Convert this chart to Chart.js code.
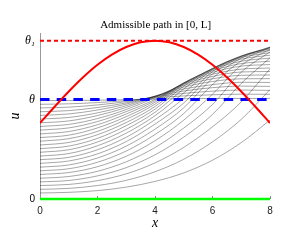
<!DOCTYPE html>
<html>
<head>
<meta charset="utf-8">
<script src="https://cdn.jsdelivr.net/npm/chart.js@4.4.0/dist/chart.umd.min.js"></script>
<style>
  html, body { margin: 0; padding: 0; background: #fff; }
</style>
</head>
<body>
<canvas id="path" width="300" height="250"></canvas>
<script>
// x positions of the sampled gray profiles
var xs = [0, 1, 2, 3, 4, 5, 6, 7, 8]

// gray family u(x) (lowest start first)
var grayPaths = [
    [0.038, 0.042, 0.053, 0.075, 0.111, 0.165, 0.245, 0.356, 0.498],
    [0.061, 0.067, 0.085, 0.118, 0.172, 0.251, 0.361, 0.503, 0.691],
    [0.085, 0.092, 0.116, 0.159, 0.228, 0.326, 0.456, 0.613, 0.822],
    [0.108, 0.117, 0.146, 0.198, 0.279, 0.391, 0.534, 0.730, 0.891],
    [0.131, 0.142, 0.175, 0.235, 0.325, 0.448, 0.597, 0.801, 0.929],
    [0.155, 0.167, 0.204, 0.270, 0.368, 0.498, 0.662, 0.844, 0.945],
    [0.178, 0.191, 0.232, 0.303, 0.407, 0.540, 0.723, 0.872, 0.957],
    [0.201, 0.215, 0.259, 0.334, 0.441, 0.576, 0.763, 0.890, 0.960],
    [0.225, 0.240, 0.285, 0.363, 0.473, 0.606, 0.789, 0.899, 0.958],
    [0.248, 0.263, 0.311, 0.390, 0.501, 0.635, 0.805, 0.903, 0.953],
    [0.271, 0.287, 0.336, 0.416, 0.526, 0.670, 0.817, 0.903, 0.948],
    [0.295, 0.311, 0.360, 0.440, 0.548, 0.695, 0.823, 0.900, 0.938],
    [0.318, 0.334, 0.383, 0.463, 0.567, 0.713, 0.825, 0.893, 0.924],
    [0.341, 0.357, 0.406, 0.483, 0.584, 0.725, 0.823, 0.883, 0.908],
    [0.365, 0.381, 0.427, 0.503, 0.599, 0.731, 0.818, 0.870, 0.890],
    [0.388, 0.403, 0.449, 0.520, 0.611, 0.734, 0.810, 0.855, 0.870],
    [0.411, 0.426, 0.469, 0.537, 0.621, 0.733, 0.800, 0.839, 0.849],
    [0.435, 0.449, 0.489, 0.552, 0.629, 0.730, 0.788, 0.820, 0.827],
    [0.458, 0.471, 0.508, 0.565, 0.640, 0.725, 0.774, 0.802, 0.805],
    [0.481, 0.493, 0.527, 0.578, 0.646, 0.717, 0.759, 0.781, 0.783],
    [0.505, 0.515, 0.544, 0.589, 0.649, 0.707, 0.742, 0.759, 0.760],
    [0.528, 0.537, 0.562, 0.599, 0.650, 0.695, 0.722, 0.737, 0.736],
    [0.551, 0.558, 0.578, 0.607, 0.648, 0.682, 0.703, 0.713, 0.711],
    [0.575, 0.580, 0.594, 0.615, 0.645, 0.667, 0.681, 0.688, 0.686],
    [0.598, 0.601, 0.609, 0.621, 0.639, 0.651, 0.658, 0.662, 0.661],
    [0.622, 0.622, 0.624, 0.627, 0.631, 0.633, 0.635, 0.635, 0.635]
]

// red admissible path
var redX = [0, 0.5, 1, 1.5, 2, 2.5, 3, 3.5, 4, 4.5, 5, 5.5, 6, 6.5, 7, 7.5, 8]
var redU = [0.48, 0.581, 0.679, 0.769, 0.848, 0.912, 0.960, 0.990, 1.0, 0.990, 0.960, 0.912, 0.848, 0.769, 0.679, 0.581, 0.48]

var theta = 0.628
var theta1 = 1.0

var xTicks = [0, 2, 4, 6, 8]
var uTicks = [0, theta, theta1]
var uTickLabels = ['0', 'θ', 'θ₁']

var toPoints = function (xv, yv) {
    return xv.map(function (x, i) { return {x: x, y: yv[i]} })
}

var flat = function (y) {
    return [{x: 0, y: y}, {x: 8, y: y}]
}

var datasets = []

// red path on top
datasets.push({
    data: toPoints(redX, redU),
    borderColor: '#ff0000',
    borderWidth: 2,
    tension: 0.4,
    order: 0
})
// theta, dashed blue
datasets.push({
    data: flat(theta),
    borderColor: '#0000ff',
    borderWidth: 3,
    borderDash: [9.5, 7.2],
    order: 1
})
// theta_1, dashed red
datasets.push({
    data: flat(theta1),
    borderColor: '#ff0000',
    borderWidth: 2,
    borderDash: [4, 3],
    order: 2
})
// zero state
datasets.push({
    data: flat(0),
    borderColor: '#00ff00',
    borderWidth: 2.5,
    clip: false,
    order: 3
})

grayPaths.forEach(function (p) {
    datasets.push({
        data: toPoints(xs, p),
        borderColor: 'rgba(0, 0, 0, 0.5)',
        borderWidth: 0.7,
        cubicInterpolationMode: 'monotone',
        order: 10
    })
})

new Chart(document.getElementById('path').getContext('2d'), {
    type: 'line',
    data: {datasets: datasets},
    options: {
        responsive: false,
        animation: false,
        devicePixelRatio: 1,
        elements: {point: {radius: 0}},
        layout: {padding: {left: 0, right: 30, top: 0, bottom: 0}},
        plugins: {
            legend: {display: false},
            tooltip: {enabled: false},
            title: {
                display: true,
                // leading spaces push the centred title over the plot area
                text: '               Admissible path in [0, L]',
                color: '#000',
                font: {family: 'Liberation Serif', size: 11, weight: 'normal'},
                padding: {top: 19, bottom: 1}
            }
        },
        scales: {
            x: {
                type: 'linear',
                min: 0,
                max: 8,
                afterBuildTicks: function (s) { s.ticks = xTicks.map(function (v) { return {value: v} }) },
                afterFit: function (s) { s.height = 51 },
                // short tick marks pointing into the plot
                grid: {display: true, drawOnChartArea: false, drawTicks: true, tickLength: -3, color: '#888', lineWidth: 1},
                border: {display: false},
                ticks: {
                    color: '#222',
                    font: {family: 'Liberation Sans', size: 10},
                    padding: 9,
                    maxRotation: 0
                },
                title: {
                    display: true,
                    text: 'x',
                    color: '#000',
                    font: {family: 'Liberation Serif', size: 14, style: 'italic'},
                    padding: {top: 0, bottom: 18}
                }
            },
            y: {
                type: 'linear',
                min: 0,
                max: 1.047,
                afterBuildTicks: function (s) { s.ticks = uTicks.map(function (v) { return {value: v} }) },
                afterFit: function (s) { s.width = 40 },
                grid: {display: false, drawTicks: false, tickLength: 0},
                border: {display: true, color: '#999', width: 1},
                ticks: {
                    color: '#000',
                    padding: 5,
                    callback: function (v) {
                        var i = uTicks.indexOf(v)
                        return i < 0 ? '' : uTickLabels[i]
                    },
                    font: function (ctx) {
                        if (ctx.tick && ctx.tick.value === 0) return {family: 'Liberation Sans', size: 10}
                        return {family: 'Liberation Serif', size: 12, style: 'italic'}
                    }
                },
                title: {
                    display: true,
                    text: 'u',
                    color: '#000',
                    font: {family: 'Liberation Serif', size: 14, style: 'italic'},
                    padding: {top: 7, bottom: 0}
                }
            }
        }
    }
})
</script>
</body>
</html>
